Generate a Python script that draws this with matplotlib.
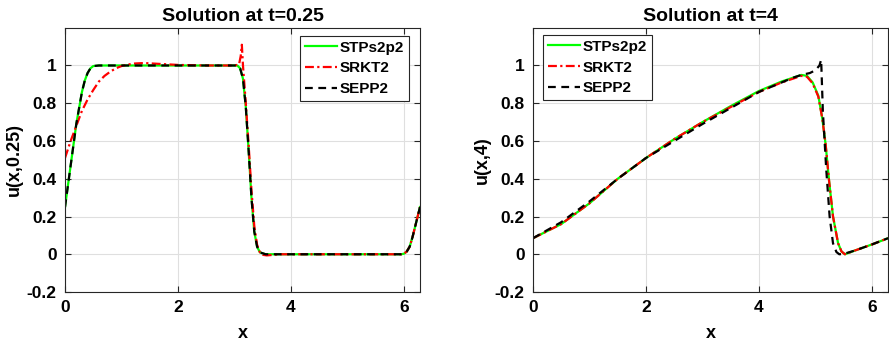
import numpy as np
import matplotlib
matplotlib.use("Agg")
import matplotlib.pyplot as plt

plt.rcParams['font.family'] = ['Liberation Sans', 'DejaVu Sans']
plt.rcParams['font.weight'] = 'bold'

# ---- t = 0.25 ----
x1_stp = [0, 0.1, 0.2, 0.3, 0.35, 0.4, 0.45, 0.5, 0.6, 1.0, 2.0, 3.0, 3.05, 3.1, 3.15,
          3.2, 3.25, 3.3, 3.35, 3.4, 3.45, 3.55, 4.0, 5.0, 5.95, 6.0, 6.05, 6.1, 6.15,
          6.2, 6.25, 6.283]
u1_stp = [0.25, 0.47, 0.69, 0.86, 0.92, 0.96, 0.985, 0.997, 1.0, 1.0, 1.0, 1.0, 1.0, 0.985, 0.93,
          0.78, 0.55, 0.30, 0.12, 0.04, 0.01, 0.0, 0.0, 0.0, 0.0, 0.003, 0.015, 0.04, 0.09,
          0.15, 0.21, 0.25]

x1_rk = [0, 0.1, 0.2, 0.3, 0.4, 0.5, 0.6, 0.7, 0.8, 0.9, 1.0, 1.2, 1.4, 1.7, 2.0, 2.5,
         3.0, 3.08, 3.11, 3.13, 3.15, 3.2, 3.25, 3.3, 3.35, 3.4, 3.45, 3.5, 3.57, 3.7, 3.8,
         5.0, 5.95, 6.0, 6.05, 6.1, 6.15, 6.2, 6.25, 6.283]
u1_rk = [0.51, 0.60, 0.68, 0.76, 0.82, 0.87, 0.915, 0.945, 0.967, 0.985, 0.997, 1.01, 1.013, 1.008, 1.003, 1.0,
         1.0, 1.005, 1.05, 1.11, 1.0, 0.80, 0.58, 0.34, 0.15, 0.05, 0.01, -0.003, -0.006, -0.003, 0.0,
         0.0, 0.0, 0.003, 0.015, 0.04, 0.09, 0.15, 0.21, 0.25]

x1_ep = x1_stp
u1_ep = u1_stp

# ---- t = 4 ----
x2_stp = [0, 0.5, 1.0, 1.5, 2.0, 2.5, 3.0, 3.5, 4.0, 4.4, 4.6, 4.75, 4.85, 4.95, 5.05,
          5.12, 5.18, 5.24, 5.31, 5.4, 5.46, 5.52, 5.7, 6.0, 6.283]
u2_stp = [0.085, 0.16, 0.27, 0.40, 0.51, 0.61, 0.70, 0.785, 0.865, 0.915, 0.935, 0.95, 0.945, 0.91, 0.84,
          0.72, 0.58, 0.39, 0.20, 0.058, 0.015, 0.0, 0.02, 0.052, 0.085]

x2_rk = [0, 0.5, 1.0, 1.5, 2.0, 2.5, 3.0, 3.5, 4.0, 4.4, 4.6, 4.75, 4.85, 4.95, 5.05,
         5.12, 5.18, 5.24, 5.31, 5.4, 5.46, 5.52, 5.7, 6.0, 6.283]
u2_rk = [0.085, 0.16, 0.27, 0.40, 0.51, 0.61, 0.70, 0.78, 0.86, 0.91, 0.93, 0.945, 0.94, 0.905, 0.835,
         0.72, 0.58, 0.39, 0.20, 0.058, 0.015, 0.0, 0.02, 0.052, 0.085]

x2_ep = [0, 0.5, 1.0, 1.5, 2.0, 2.5, 3.0, 3.5, 4.0, 4.4, 4.6, 4.75, 4.9, 5.0, 5.07, 5.1,
         5.13, 5.19, 5.25, 5.31, 5.37, 5.42, 5.5, 5.7, 6.0, 6.283]
u2_ep = [0.085, 0.17, 0.28, 0.40, 0.51, 0.60, 0.69, 0.775, 0.86, 0.91, 0.935, 0.95, 0.96, 0.975, 1.0, 1.03,
         0.76, 0.45, 0.20, 0.058, 0.012, 0.0, 0.002, 0.02, 0.052, 0.085]

names = ['STPs2p2', 'SRKT2', 'SEPP2']
panels = [
    ("Solution at t=0.25", "u(x,0.25)", [(x1_stp, u1_stp), (x1_rk, u1_rk), (x1_ep, u1_ep)], 'upper right', (0.969, 0.969)),
    ("Solution at t=4", "u(x,4)", [(x2_stp, u2_stp), (x2_rk, u2_rk), (x2_ep, u2_ep)], 'upper left', (0.028, 0.972)),
]

fig = plt.figure(figsize=(8.89, 3.45), dpi=100)
lefts = [65 / 889, 533 / 889]
styles = [dict(color=(0, 1, 0), ls='-', lw=1.6),
          dict(color='red', ls=(0, (4, 1.5, 1, 1.5)), lw=1.6),
          dict(color='black', ls=(0, (3.5, 2.5)), lw=1.6)]
axc = '#262626'

for left, (title, ylab, series, loc, anchor) in zip(lefts, panels):
    ax = fig.add_axes([left, 0.1536, 355 / 889, 0.766])
    for (xs, us), st, nm in zip(series, styles, names):
        ax.plot(xs, us, label=nm, **st)
    ax.set_xlim(0, 2 * np.pi)
    ax.set_ylim(-0.2, 1.2)
    ax.set_xticks([0, 2, 4, 6])
    ax.set_yticks([-0.2, 0, 0.2, 0.4, 0.6, 0.8, 1])
    ax.set_yticklabels(['-0.2', '0', '0.2', '0.4', '0.6', '0.8', '1'])
    ax.grid(True, color='#dfdfdf', lw=0.8)
    ax.set_axisbelow(True)
    ax.tick_params(direction='in', top=True, right=True, labelsize=12.5, colors=axc,
                   length=4, width=0.8, pad=6)
    for lbl in ax.get_xticklabels() + ax.get_yticklabels():
        lbl.set_fontweight('bold')
        lbl.set_color('black')
    for sp in ax.spines.values():
        sp.set_color(axc)
        sp.set_linewidth(0.8)
    ax.set_title(title, fontsize=14, fontweight='bold', pad=5)
    ax.set_xlabel('x', fontsize=13, fontweight='bold')
    ax.set_ylabel(ylab, fontsize=13, fontweight='bold')
    ax.yaxis.set_label_coords(-0.118, 0.5)
    ax.xaxis.set_label_coords(0.5, -0.125)
    leg = ax.legend(loc=loc, bbox_to_anchor=anchor, borderaxespad=0, fancybox=False,
                    framealpha=1, edgecolor=axc, prop=dict(size=11, weight='bold'),
                    handlelength=2.1, handletextpad=0.2, borderpad=0.3, labelspacing=0.45)
    leg.get_frame().set_linewidth(0.8)

fig.savefig('out.png', dpi=100)
